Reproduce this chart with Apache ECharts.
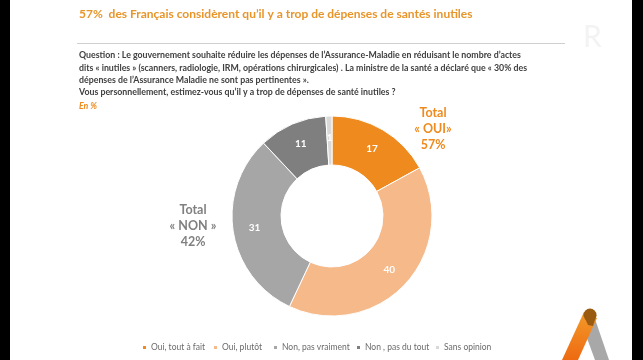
<!DOCTYPE html>
<html>
<head>
<meta charset="utf-8">
<script src="https://cdn.jsdelivr.net/npm/echarts@6/dist/echarts.min.js"></script>
<style>
html,body{margin:0;padding:0;background:#fff;}
#c{width:643px;height:360px;}
</style>
</head>
<body>
<div id="c"></div>
<script>
var categories = ['Oui, tout à fait', 'Oui, plutôt', 'Non, pas vraiment', 'Non , pas du tout', 'Sans opinion'];
var values = [17, 40, 31, 11, 1];
var colors = ['#EF8A1E', '#F6B98A', '#A6A6A6', '#7F7F7F', '#D9D9D9'];
var titleText = '57%  des Français considèrent qu\u2019il y a trop de dépenses de santés inutiles';
var questionLines = [
  'Question : Le gouvernement souhaite réduire les dépenses de l\u2019Assurance-Maladie en réduisant le nombre d\u2019actes',
  'dits « inutiles » (scanners, radiologie, IRM, opérations chirurgicales) . La ministre de la santé a déclaré que « 30% des',
  'dépenses de l\u2019Assurance Maladie ne sont pas pertinentes ».'
];
var question2 = 'Vous personnellement, estimez-vous qu\u2019il y a trop de dépenses de santé inutiles ?';
var unitText = 'En %';
var totalOui = 'Total\n« OUI»\n57%';
var totalNon = 'Total\n« NON »\n42%';

var FONT = 'Lato';
var chart = echarts.init(document.getElementById('c'), null, {renderer: 'canvas'});

var legendLefts = [136, 207, 267, 350, 429];
var legends = categories.map(function (c, i) {
  return {
    data: [c], left: legendLefts[i], top: 338, orient: 'horizontal',
    icon: 'rect', itemWidth: 5, itemHeight: 5, itemGap: 4,
    textStyle: {fontFamily: FONT, fontSize: 8.5, color: '#6b6b6b', padding: [0, 0, 0, -1]}
  };
});

var graphics = [
  {type: 'rect', shape: {x: 0, y: 0, width: 10, height: 360}, style: {fill: '#000'}},
  {type: 'rect', shape: {x: 632, y: 0, width: 11, height: 360}, style: {fill: '#000'}},
  {type: 'text', left: 79, top: 8, style: {text: titleText, font: 'bold 12px ' + FONT, fill: '#E8952A'}},
  {type: 'line', shape: {x1: 77, y1: 43.5, x2: 565, y2: 43.5}, style: {stroke: '#d0d0d0', lineWidth: 1}},
  {type: 'text', left: 79, top: 49, style: {text: questionLines.join('\n'), font: 'bold 8.8px ' + FONT, fill: '#404040', lineHeight: 12.5}},
  {type: 'text', left: 79, top: 88, style: {text: question2, font: 'bold 8.8px ' + FONT, fill: '#404040'}},
  {type: 'text', left: 79, top: 102, style: {text: unitText, font: 'italic bold 8.8px ' + FONT, fill: '#EF8A1E'}},
  {type: 'text', x: 433, y: 105, style: {text: totalOui, font: 'bold 12.5px ' + FONT, fill: '#EF8A1E', align: 'center', lineHeight: 16}},
  {type: 'text', x: 193, y: 202, style: {text: totalNon, font: 'bold 12.5px ' + FONT, fill: '#808080', align: 'center', lineHeight: 16}},
  {type: 'text', x: 583, y: 22, style: {text: 'R', font: '30px ' + FONT, fill: '#f3f3f3'}},
  // logo
  {type: 'polygon', shape: {points: [[594, 316], [609, 360], [595, 360], [584, 330]]}, style: {fill: '#A8A8A8'}},
  {type: 'polygon', shape: {points: [[584, 312], [597, 318], [578, 360], [562, 360]]},
   style: {fill: new echarts.graphic.LinearGradient(0, 0, 0, 1, [{offset: 0, color: '#F39A2A'}, {offset: 1, color: '#EE6A12'}])}},
  {type: 'circle', shape: {cx: 590, cy: 315, r: 6.5}, style: {fill: '#9A5B10'}},
  {type: 'polygon', shape: {points: [[583.5, 315], [596.5, 315], [593, 326], [588, 325]]}, style: {fill: '#9A5B10'}}
];

chart.setOption({
  backgroundColor: '#fff',
  animation: false,
  color: colors,
  legend: legends,
  graphic: graphics,
  series: [{
    type: 'pie',
    center: [332, 216],
    radius: [51, 100],
    startAngle: 90,
    clockwise: true,
    avoidLabelOverlap: false,
    itemStyle: {borderColor: '#fff', borderWidth: 1},
    label: {show: true, position: 'inside', formatter: '{c}', color: '#fff', fontFamily: FONT, fontWeight: 'bold', fontSize: 10},
    labelLine: {show: false},
    emphasis: {disabled: true},
    data: categories.map(function (c, i) { return {name: c, value: values[i]}; })
  }]
});
</script>
</body>
</html>
